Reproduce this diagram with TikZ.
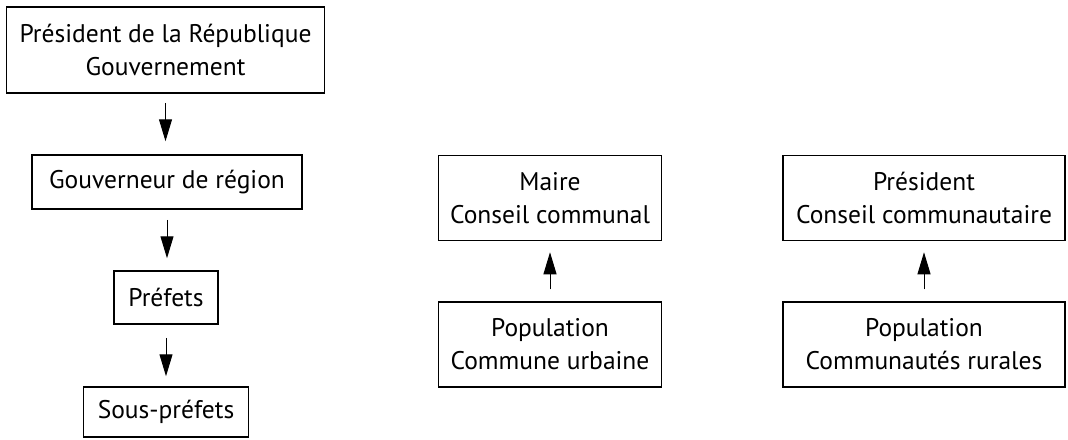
\documentclass[tikz,border=0pt]{standalone}
\usepackage{fontspec}
\setmainfont{PT Sans}
\usetikzlibrary{arrows.meta}
\begin{document}
\begin{tikzpicture}[x=1pt,y=-1pt,
  box/.style={draw, line width=1.5pt, inner sep=0pt, align=center,
    font=\fontsize{25.5}{33}\selectfont},
  arr/.style={line width=1pt, -{Triangle[width=13pt,length=22pt]}}]
\useasboundingbox (0,0) rectangle (1068,439);
\node[box, minimum width=318pt, minimum height=86pt] (pres) at (165.5,50) {Président de la République\\Gouvernement};
\node[box, minimum width=270pt, minimum height=54pt] (gouv) at (167,182) {Gouverneur de région};
\node[box, minimum width=104pt, minimum height=53pt] (pref) at (166,297.5) {Préfets};
\node[box, minimum width=165pt, minimum height=50pt] (sous) at (166,412) {Sous-préfets};
\node[box, minimum width=223pt, minimum height=85pt] (maire) at (550,198) {Maire\\Conseil communal};
\node[box, minimum width=223pt, minimum height=85pt] (popu) at (550,344.5) {Population\\Commune urbaine};
\node[box, minimum width=282pt, minimum height=85pt] (presc) at (924,198) {Président\\Conseil communautaire};
\node[box, minimum width=282pt, minimum height=85pt] (popr) at (924,344.5) {Population\\Communautés rurales};
\draw[arr, shorten <=9pt, shorten >=13pt] (pres.south) -- (pres.south |- gouv.north);
\draw[arr, shorten <=10pt, shorten >=12pt] (gouv.south) -- (gouv.south |- pref.north);
\draw[arr, shorten <=13pt, shorten >=10pt] (pref.south) -- (pref.south |- sous.north);
\draw[arr, shorten <=12pt, shorten >=11pt] (popu.north) -- (maire.south);
\draw[arr, shorten <=12pt, shorten >=11pt] (popr.north) -- (presc.south);
\end{tikzpicture}
\end{document}
